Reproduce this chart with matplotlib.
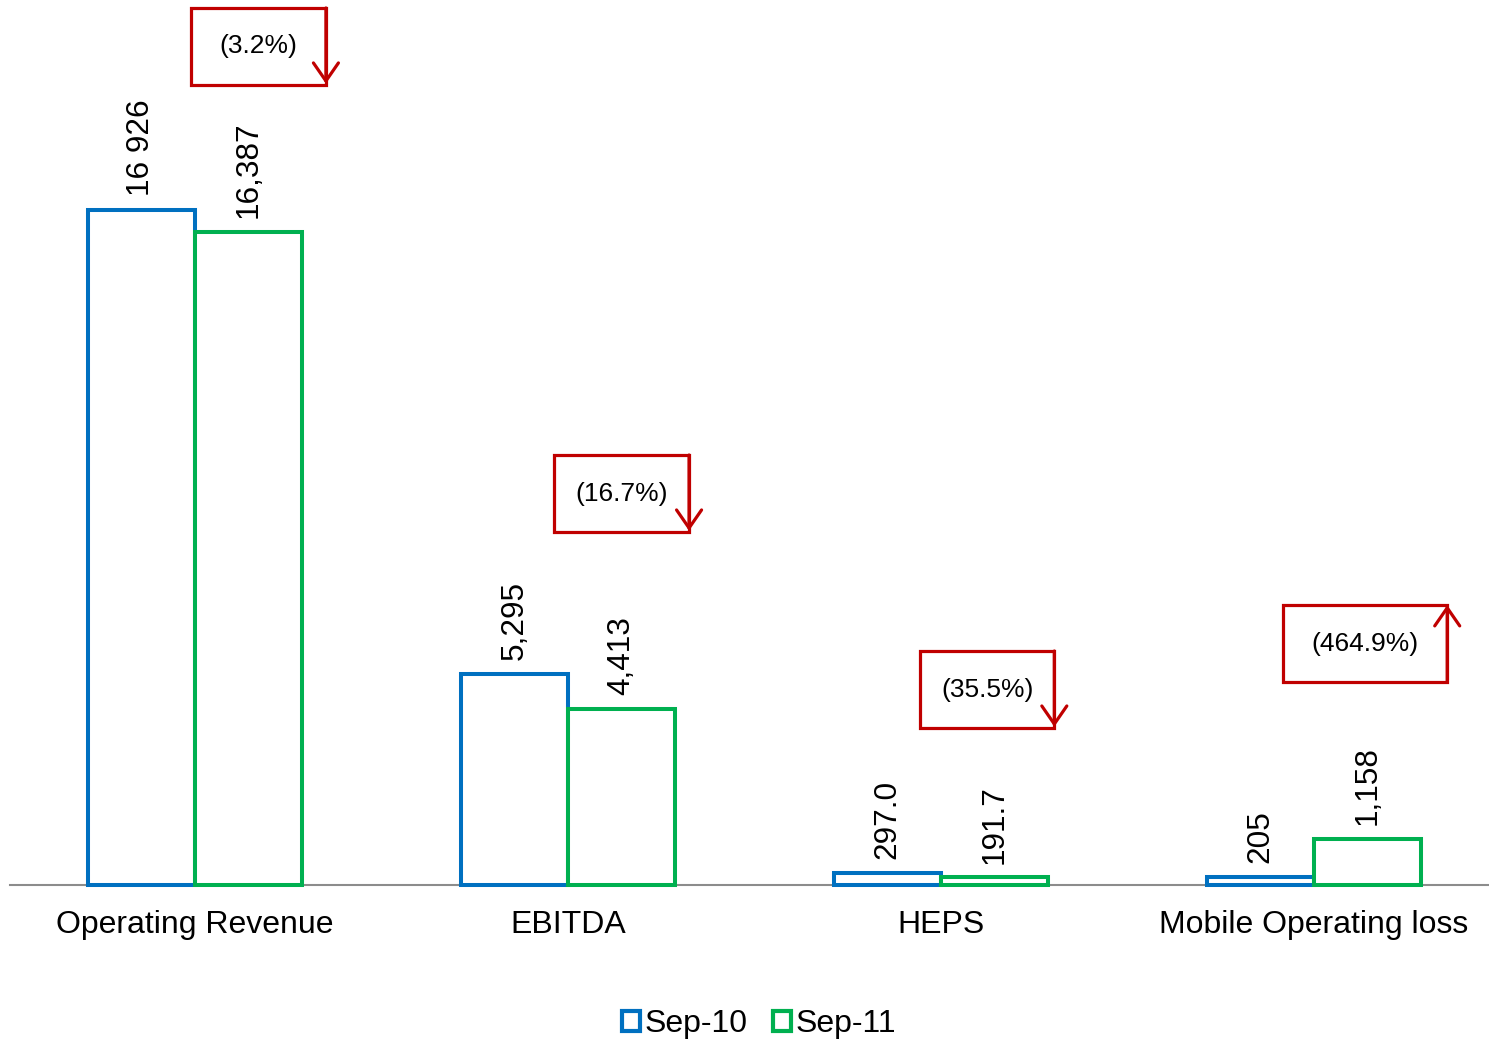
import matplotlib.pyplot as plt
from matplotlib.patches import Rectangle, Patch
import numpy as np

plt.rcParams['font.family'] = ['Liberation Sans', 'DejaVu Sans']

categories = ['Operating Revenue', 'EBITDA', 'HEPS', 'Mobile Operating loss']
sep10 = [16926, 5295, 297.0, 205]
sep11 = [16387, 4413, 191.7, 1158]
sep10_labels = ['16 926', '5,295', '297.0', '205']
sep11_labels = ['16,387', '4,413', '191.7', '1,158']
changes = ['(3.2%)', '(16.7%)', '(35.5%)', '(464.9%)']
change_up = [False, False, False, True]

blue = '#0070C0'
green = '#00B050'
red = '#C00000'

fig = plt.figure(figsize=(14.89, 10.4), dpi=100)
ax = fig.add_axes([0.0067, 0.149, 0.9933, 0.851])

x = np.arange(len(categories))
w = 0.287
b1 = ax.bar(x - w / 2, sep10, w, facecolor='white', edgecolor=blue, linewidth=2.9, zorder=3, clip_on=False)
b2 = ax.bar(x + w / 2, sep11, w, facecolor='white', edgecolor=green, linewidth=2.9, zorder=3, clip_on=False)

for bars, labels in ((b1, sep10_labels), (b2, sep11_labels)):
    for rect, lab in zip(bars, labels):
        ax.annotate(lab, (rect.get_x() + rect.get_width() / 2, rect.get_height()),
                    xytext=(0, 10), textcoords='offset points', rotation=90,
                    ha='center', va='bottom', fontsize=22.7)

# change boxes: (left, bottom, width) in data units
box_left = [-0.011, 0.9625, 1.9437, 2.917]
box_bottom = [20061, 8852, 3937, 5090]
box_w = [0.362, 0.362, 0.360, 0.44]
box_h = 1931
for i, txt in enumerate(changes):
    l, bt, bw = box_left[i], box_bottom[i], box_w[i]
    ax.add_patch(Rectangle((l, bt), bw, box_h, fill=False, edgecolor=red, linewidth=2.3, zorder=4))
    ax.text(l + bw / 2, bt + box_h / 2, txt, ha='center', va='center', fontsize=19, zorder=5)
    xr = l + bw
    if change_up[i]:
        start, end = (xr, bt), (xr, bt + box_h)
    else:
        start, end = (xr, bt + box_h), (xr, bt + 30)
    ax.annotate('', xy=end, xytext=start,
                arrowprops=dict(arrowstyle='->,head_length=0.65,head_width=0.45',
                                color=red, lw=2.3, mutation_scale=20,
                                shrinkA=0, shrinkB=0), zorder=5)

ax.set_xlim(-0.496, 3.469)
ax.set_ylim(0, 22192)
ax.set_xticks(x)
ax.set_xticklabels(categories, fontsize=23)
ax.tick_params(axis='x', length=0, pad=18)
ax.set_yticks([])
for s in ('top', 'right', 'left'):
    ax.spines[s].set_visible(False)
ax.spines['bottom'].set_color('#8C8C8C')
ax.spines['bottom'].set_linewidth(1.5)

handles = [Patch(facecolor='white', edgecolor=blue, linewidth=3, label='Sep-10'),
           Patch(facecolor='white', edgecolor=green, linewidth=3, label='Sep-11')]
fig.legend(handles=handles, loc='center', bbox_to_anchor=(0.51, 0.015), ncol=2,
           frameon=False, fontsize=23, handlelength=0.55, handleheight=0.55,
           handletextpad=0.15, columnspacing=0.8)

fig.savefig('out.png', dpi=100)
